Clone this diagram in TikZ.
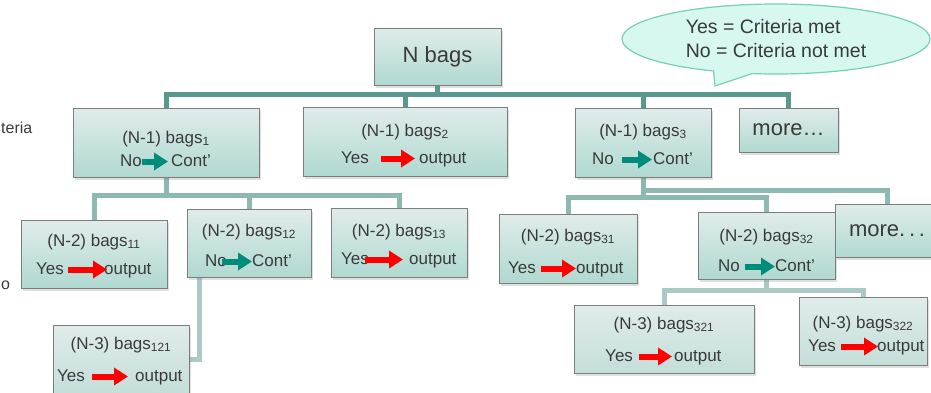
\documentclass[tikz,border=0pt]{standalone}
\usepackage{fontspec}
\setmainfont{Liberation Sans}
\usetikzlibrary{arrows.meta}
\usetikzlibrary{positioning}
\usetikzlibrary{shapes}
\usetikzlibrary{shadows}
\usetikzlibrary{calc}
\usetikzlibrary{backgrounds}
\definecolor{boxtop}{RGB}{224,236,234}
\definecolor{boxbot}{RGB}{176,217,209}
\definecolor{boxbotlow}{RGB}{196,222,217}
\definecolor{boxline}{RGB}{125,125,125}
\definecolor{ink}{RGB}{58,58,58}
\definecolor{linkA}{RGB}{88,152,142}
\definecolor{linkB}{RGB}{142,185,177}
\definecolor{linkC}{RGB}{172,202,197}
\definecolor{arrred}{RGB}{255,0,0}
\definecolor{arrteal}{RGB}{0,140,122}
\definecolor{bubfill}{RGB}{214,248,238}
\definecolor{bubline}{RGB}{118,208,178}
\tikzset{
    bagbox/.style={draw=boxline, line width=1pt, top color=boxtop, bottom color=boxbot,
        drop shadow={opacity=0.25, shadow xshift=2pt, shadow yshift=-3pt}},
    lowbox/.style={bagbox, bottom color=boxbotlow},
    bigtext/.style={text=ink, font=\fontsize{22}{26}\selectfont},
    word/.style={text=ink, inner sep=0pt, text height=12.5pt, text depth=3.5pt,
        font=\fontsize{17}{20}\selectfont},
    cut/.style={text=ink, inner sep=0pt, font=\fontsize{16}{19}\selectfont},
    yesarr/.style={draw=arrred, line width=6pt, -{Triangle[length=14pt,width=17pt]}},
    noarr/.style={draw=arrteal, line width=6pt, -{Triangle[length=14pt,width=17pt]}},
    link1/.style={draw=linkA, line width=5pt},
    link2/.style={draw=linkB, line width=5pt},
    link3/.style={draw=linkC, line width=5pt},
    bubble/.style={ellipse callout, draw=bubline, line width=1.2pt, fill=bubfill,
        minimum width=308, minimum height=70, inner sep=0pt, align=left,
        text=ink, font=\fontsize{19.5}{24}\selectfont},
}

\begin{document}
\begin{tikzpicture}[x=1pt,y=-1pt]
\useasboundingbox (0,0) rectangle (931,392);

% text at the left edge
\node[cut, anchor=base west] (cut1) at (1,133) {teria};
\node[cut, anchor=base west] (cut2) at (1,289) {o};

\node[bagbox, bigtext, minimum width=127, minimum height=57] (nb) at (437.5,56.5) {N bags};
\node[bubble, callout absolute pointer={(715,86)}] (key) at (776,39) {Yes = Criteria met\\No = Criteria not met};

% level 1
\node[bagbox, minimum width=186, minimum height=69] (b1) at (166,142.5) {};
\node[word, anchor=base] (b1t) at (166,143) {(N-1) bags\textsubscript{1}};
\node[word, anchor=base west] (b1l) at (120,166) {No};
\node[word, anchor=base west] (b1r) at (171,166) {Cont'};
\draw[noarr] (b1l.east) -- ([xshift=-3]b1r.west);

\node[bagbox, minimum width=204, minimum height=69] (b2) at (405,141.5) {};
\node[word, anchor=base] (b2t) at (405,136) {(N-1) bags\textsubscript{2}};
\node[word, anchor=base west] (b2l) at (341,163) {Yes};
\node[word, anchor=base west] (b2r) at (419,163) {output};
\draw[yesarr] ([xshift=12]b2l.east) -- ([xshift=-4]b2r.west);

\node[bagbox, minimum width=136, minimum height=69] (b3) at (643,142.5) {};
\node[word, anchor=base] (b3t) at (643,136) {(N-1) bags\textsubscript{3}};
\node[word, anchor=base west] (b3l) at (592,164) {No};
\node[word, anchor=base west] (b3r) at (653,164) {Cont'};
\draw[noarr] ([xshift=8]b3l.east) -- ([xshift=-1]b3r.west);

\node[bagbox, bigtext, minimum width=99, minimum height=44] (m1) at (788.5,130) {more\dots};

% level 2
\node[bagbox, minimum width=146, minimum height=68] (b11) at (94,254) {};
\node[word, anchor=base] (b11t) at (94,246) {(N-2) bags\textsubscript{11}};
\node[word, anchor=base west] (b11l) at (36,274) {Yes};
\node[word, anchor=base west] (b11r) at (104,274) {output};
\draw[yesarr] ([xshift=4]b11l.east) -- ([xshift=3]b11r.west);

\node[bagbox, minimum width=124, minimum height=68] (b12) at (249,243) {};
\node[word, anchor=base] (b12t) at (249,236) {(N-2) bags\textsubscript{12}};
\node[word, anchor=base west] (b12l) at (205,266) {No};
\node[word, anchor=base west] (b12r) at (252,266) {Cont'};
\draw[noarr] ([xshift=-5]b12l.east) -- (b12r.west);

\node[bagbox, minimum width=136, minimum height=69] (b13) at (399,242.5) {};
\node[word, anchor=base] (b13t) at (399,236) {(N-2) bags\textsubscript{13}};
\node[word, anchor=base west] (b13l) at (341,264) {Yes};
\node[word, anchor=base west] (b13r) at (409,264) {output};
\draw[yesarr] ([xshift=-4]b13l.east) -- ([xshift=-6]b13r.west);

\node[bagbox, minimum width=138, minimum height=69] (b31) at (568,248.5) {};
\node[word, anchor=base] (b31t) at (568,241) {(N-2) bags\textsubscript{31}};
\node[word, anchor=base west] (b31l) at (508,273) {Yes};
\node[word, anchor=base west] (b31r) at (576,273) {output};
\draw[yesarr] ([xshift=5]b31l.east) -- (b31r.west);

\node[bagbox, minimum width=137, minimum height=67] (b32) at (766.5,245.5) {};
\node[word, anchor=base] (b32t) at (766.5,241) {(N-2) bags\textsubscript{32}};
\node[word, anchor=base west] (b32l) at (718,271) {No};
\node[word, anchor=base west] (b32r) at (775,271) {Cont'};
\draw[noarr] ([xshift=5]b32l.east) -- (b32r.west);

\node[bagbox, bigtext, minimum width=104, minimum height=53] (m2) at (887,230.5) {more.\,.\,.};

% level 3
\node[lowbox, minimum width=136, minimum height=69] (b121) at (121,359.5) {};
\node[word, anchor=base] (b121t) at (121,349) {(N-3) bags\textsubscript{121}};
\node[word, anchor=base west] (b121l) at (57,381) {Yes};
\node[word, anchor=base west] (b121r) at (135,381) {output};
\draw[yesarr] ([xshift=7]b121l.east) -- ([xshift=-7]b121r.west);

\node[lowbox, minimum width=180, minimum height=68] (b321) at (664,339) {};
\node[word, anchor=base] (b321t) at (664,329) {(N-3) bags\textsubscript{321}};
\node[word, anchor=base west] (b321l) at (605,361) {Yes};
\node[word, anchor=base west] (b321r) at (674,361) {output};
\draw[yesarr] ([xshift=6]b321l.east) -- ([xshift=-2]b321r.west);

\node[lowbox, minimum width=128, minimum height=68] (b322) at (863,331) {};
\node[word, anchor=base] (b322t) at (863,328) {(N-3) bags\textsubscript{322}};
\node[word, anchor=base west] (b322l) at (808,351) {Yes};
\node[word, anchor=base west] (b322r) at (877,351) {output};
\draw[yesarr] ([xshift=5]b322l.east) -- ([xshift=1]b322r.west);

% links behind the boxes
\begin{scope}[on background layer]
\draw[link3] (b121.east) -| ([xshift=13]b12.south west);
\draw[link3] (b32.south) -- ++(0,11) -| (b321.north);
\draw[link3] (b32.south) -- ++(0,11) -| (b322.north);
\draw[link2] (b1.south) -- ++(0,18) -| (b11.north);
\draw[link2] (b1.south) -- ++(0,18) -| (b12.north);
\draw[link2] (b1.south) -- ++(0,18) -| (b13.north);
\draw[link2] (b3.south) -- ++(0,20) -| (b31.north);
\draw[link2] (b3.south) -- ++(0,20) -| (b32.north);
\draw[link2] (b3.south) -- ++(0,13) -| (m2.north);
\draw[link1] (nb.south) -- ++(0,9) -| (b1.north);
\draw[link1] (nb.south) -- ++(0,9) -| (b2.north);
\draw[link1] (nb.south) -- ++(0,9) -| (b3.north);
\draw[link1] (nb.south) -- ++(0,9) -| (m1.north);
\end{scope}
\end{tikzpicture}
\end{document}
